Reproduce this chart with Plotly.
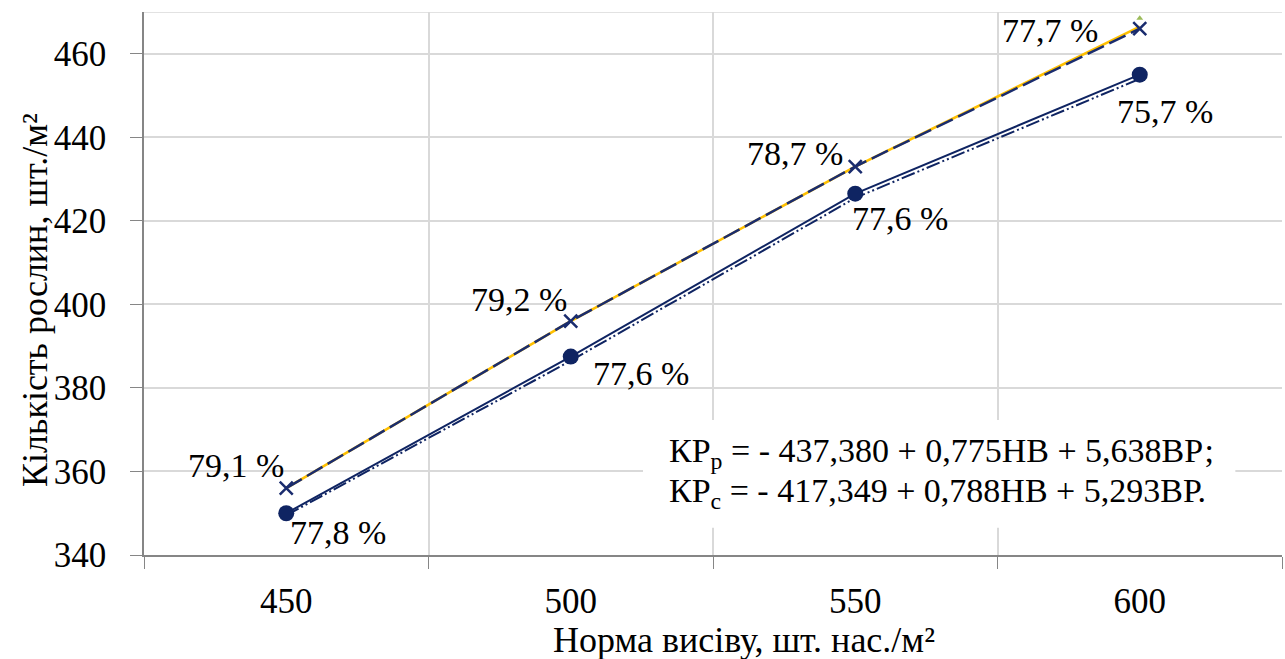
import plotly.graph_objects as go

# Sowing rate categories (seeds per m²)
sowing_rate = [450, 500, 550, 600]

# Plant density: field (actual) and calculated by regression, plants per m²
plants_field_upper = [356, 396, 433, 466]
plants_calc_upper = [356, 396, 433, 466.5]
plants_field_lower = [350, 387.5, 426.5, 455]
plants_calc_lower = [349.5, 386.5, 425.5, 454]

# Field germination labels, %
germ_upper = ["79,1 %", "79,2 %", "78,7 %", "77,7 %"]
germ_lower = ["77,8 %", "77,6 %", "77,6 %", "75,7 %"]

# Label offsets in pixels (dx right, dy up)
off_upper = [(-50, 23), (-52, 22), (-60, 13), (-90, -2)]
off_lower = [(52, -19), (70, -17), (45, -25), (25, -37)]

eq_lines = [
    "КР<sub>р</sub> = - 437,380 + 0,775НВ + 5,638ВР;",
    "КР<sub>с</sub> = - 417,349 + 0,788НВ + 5,293ВР.",
]

FONT = "'Times New Roman', 'Liberation Serif', 'DejaVu Serif', serif"
NAVY = "#1A2C6E"
DARK = "#0F2462"
YELLOW = "#FFC000"
GRID = "#D9D9D9"
AXIS = "#868686"

# Plot area in pixels
L, R, T, B = 144, 3, 12, 104
W, H = 1285, 659
pw, ph = W - L - R, H - T - B


def px_to_paper(xp, yp):
    return (xp - L) / pw, (H - B - yp) / ph


fig = go.Figure()

fig.add_trace(go.Scatter(
    x=sowing_rate, y=plants_calc_upper, mode="lines",
    line=dict(color=YELLOW, width=2.5), hoverinfo="skip"))
fig.add_trace(go.Scatter(
    x=sowing_rate, y=plants_field_upper, mode="lines+markers",
    line=dict(color=NAVY, width=2.5, dash="18px,6px"),
    marker=dict(symbol="x-thin", size=13, line=dict(color=NAVY, width=2.5))))
fig.add_trace(go.Scatter(
    x=sowing_rate, y=plants_calc_lower, mode="lines",
    line=dict(color=DARK, width=2, dash="14px,3px,2px,3px,2px,3px")))
fig.add_trace(go.Scatter(
    x=sowing_rate, y=plants_field_lower, mode="lines+markers",
    line=dict(color=DARK, width=2),
    marker=dict(symbol="circle", size=16, color=DARK)))
fig.add_trace(go.Scatter(
    x=[sowing_rate[-1]], y=[468.5], mode="markers",
    marker=dict(symbol="triangle-up", size=6, color="#9BBB59")))

for xv, yv, t, (dx, dy) in zip(sowing_rate, plants_field_upper, germ_upper, off_upper):
    fig.add_annotation(x=xv, y=yv, text=t, showarrow=False, xshift=dx, yshift=dy,
                       font=dict(family=FONT, size=34, color="#000000"))
for xv, yv, t, (dx, dy) in zip(sowing_rate, plants_field_lower, germ_lower, off_lower):
    fig.add_annotation(x=xv, y=yv, text=t, showarrow=False, xshift=dx, yshift=dy,
                       font=dict(family=FONT, size=34, color="#000000"))

# Regression equations on a white panel
fig.add_shape(type="rect", xref="x", yref="y", x0=512.7, x1=616.8, y0=346.5, y1=372.3,
              fillcolor="white", line=dict(width=0), layer="above")
for yv, t in zip([364.4, 354.8], eq_lines):
    fig.add_annotation(x=517, y=yv, xref="x", yref="y", text=t, showarrow=False,
                       xanchor="left", yanchor="middle",
                       font=dict(family=FONT, size=34, color="#000000"))

# Plot area top border
fig.add_shape(type="line", xref="x", yref="y", x0=425, x1=625, y0=470, y1=470,
              line=dict(color=GRID, width=1.5), layer="below")

# Axis titles
xt_x, xt_y = px_to_paper(744, 640)
fig.add_annotation(x=xt_x, y=xt_y, xref="paper", yref="paper", text="Норма висіву, шт. нас./м²",
                   showarrow=False, xanchor="center", yanchor="middle",
                   font=dict(family=FONT, size=36, color="#000000"))
yt_x, yt_y = px_to_paper(35, 300)
fig.add_annotation(x=yt_x, y=yt_y, xref="paper", yref="paper", text="Кількість рослин, шт./м²",
                   showarrow=False, textangle=-90, xanchor="center", yanchor="middle",
                   font=dict(family=FONT, size=36, color="#000000"))

fig.update_layout(
    width=W, height=H,
    margin=dict(l=L, r=R, t=T, b=B),
    paper_bgcolor="white", plot_bgcolor="white",
    showlegend=False,
    font=dict(family=FONT),
    xaxis=dict(
        range=[425, 625], tickvals=sowing_rate, ticktext=[str(v) for v in sowing_rate],
        ticks="", showgrid=False, zeroline=False,
        showline=True, linecolor=AXIS, linewidth=1.5,
        ticklabelstandoff=14,
        tickfont=dict(family=FONT, size=35, color="#000000"),
        minor=dict(tickvals=[425, 475, 525, 575, 625], ticks="outside", ticklen=12,
                   tickcolor=AXIS, showgrid=True, gridcolor=GRID, gridwidth=1.5),
    ),
    yaxis=dict(
        range=[340, 470], tick0=340, dtick=20,
        ticks="outside", ticklen=12, tickcolor=AXIS,
        showgrid=True, gridcolor=GRID, gridwidth=1.5, zeroline=False,
        showline=True, linecolor=AXIS, linewidth=1.5,
        ticklabelstandoff=17,
        tickfont=dict(family=FONT, size=35, color="#000000"),
    ),
)

fig.write_html("out.html")
